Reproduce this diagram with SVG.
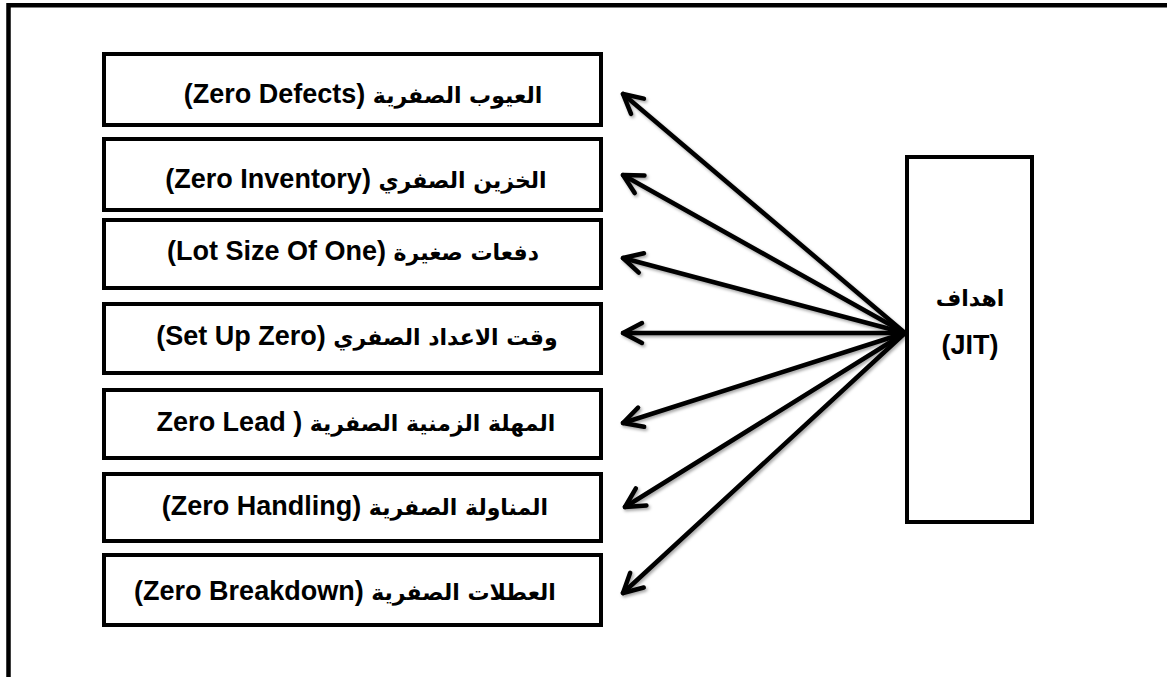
<svg xmlns="http://www.w3.org/2000/svg" width="1167" height="677" viewBox="0 0 1167 677">
  <style>
    .box { fill: #ffffff; stroke: #000000; stroke-width: 4; }
    .lbl { font-family: "Liberation Sans", "DejaVu Sans", sans-serif; font-weight: bold; font-size: 27px; fill: #000000; }
    .ar { font-family: "DejaVu Sans", sans-serif; font-weight: bold; font-size: 22px; }
    .conn { fill: none; stroke: #000000; stroke-width: 4.5; stroke-linecap: round; }
    .frame { fill: none; stroke: #000000; stroke-width: 4.5; }
  </style>
  <defs>
    <marker id="arr" markerUnits="userSpaceOnUse" markerWidth="30" markerHeight="30" viewBox="-26 -15 30 30" refX="0" refY="0" orient="auto">
      <path d="M -19 -10 L 0 0 L -19 10" fill="none" stroke="#000000" stroke-width="4.5" stroke-linecap="round" stroke-linejoin="round"/>
    </marker>
    <filter id="sh" x="-10%" y="-10%" width="120%" height="130%">
      <feDropShadow dx="1.5" dy="2" stdDeviation="1.5" flood-color="#000000" flood-opacity="0.35"/>
    </filter>
  </defs>
  <rect width="1167" height="677" fill="#ffffff"/>
  <path class="frame" d="M 8.5 677 L 8.5 5.3 L 1167 5.3"/>

  <g id="connectors" filter="url(#sh)">
    <line class="conn" x1="905" y1="333" x2="623" y2="94" marker-end="url(#arr)"/>
    <line class="conn" x1="905" y1="333" x2="623" y2="175" marker-end="url(#arr)"/>
    <line class="conn" x1="905" y1="333" x2="623" y2="258" marker-end="url(#arr)"/>
    <line class="conn" x1="905" y1="333" x2="623" y2="333" marker-end="url(#arr)"/>
    <line class="conn" x1="905" y1="333" x2="623" y2="423" marker-end="url(#arr)"/>
    <line class="conn" x1="905" y1="333" x2="625" y2="507" marker-end="url(#arr)"/>
    <line class="conn" x1="905" y1="333" x2="623" y2="593" marker-end="url(#arr)"/>
  </g>

  <g id="jit">
    <rect class="box" x="907" y="157" width="125" height="365"/>
    <text class="lbl" x="970" y="306" text-anchor="middle"><tspan class="ar">اهداف</tspan></text>
    <text class="lbl" x="970" y="354" text-anchor="middle">(JIT)</text>
  </g>

  <g id="zero-defects">
    <rect class="box" x="104" y="54" width="497" height="71"/>
    <text class="lbl" x="363" y="103" text-anchor="middle" direction="ltr">(Zero Defects) <tspan class="ar">العيوب الصفرية</tspan></text>
  </g>
  <g id="zero-inventory">
    <rect class="box" x="104" y="139" width="497" height="71"/>
    <text class="lbl" x="356" y="188" text-anchor="middle" direction="ltr">(Zero Inventory) <tspan class="ar">الخزين الصفري</tspan></text>
  </g>
  <g id="lot-size">
    <rect class="box" x="104" y="220" width="497" height="68"/>
    <text class="lbl" x="353" y="260" text-anchor="middle" direction="ltr">(Lot Size Of One) <tspan class="ar">دفعات صغيرة</tspan></text>
  </g>
  <g id="setup-zero">
    <rect class="box" x="104" y="304" width="497" height="69"/>
    <text class="lbl" x="357" y="345" text-anchor="middle" direction="ltr">(Set Up Zero) <tspan class="ar">وقت الاعداد الصفري</tspan></text>
  </g>
  <g id="zero-lead">
    <rect class="box" x="104" y="390" width="497" height="68"/>
    <text class="lbl" x="356" y="431" text-anchor="middle" direction="ltr">Zero Lead ) <tspan class="ar">المهلة الزمنية الصفرية</tspan></text>
  </g>
  <g id="zero-handling">
    <rect class="box" x="104" y="474" width="497" height="67"/>
    <text class="lbl" x="355" y="515" text-anchor="middle" direction="ltr">(Zero Handling) <tspan class="ar">المناولة الصفرية</tspan></text>
  </g>
  <g id="zero-breakdown">
    <rect class="box" x="104" y="555" width="497" height="70"/>
    <text class="lbl" x="345" y="600" text-anchor="middle" direction="ltr">(Zero Breakdown) <tspan class="ar">العطلات الصفرية</tspan></text>
  </g>
</svg>
